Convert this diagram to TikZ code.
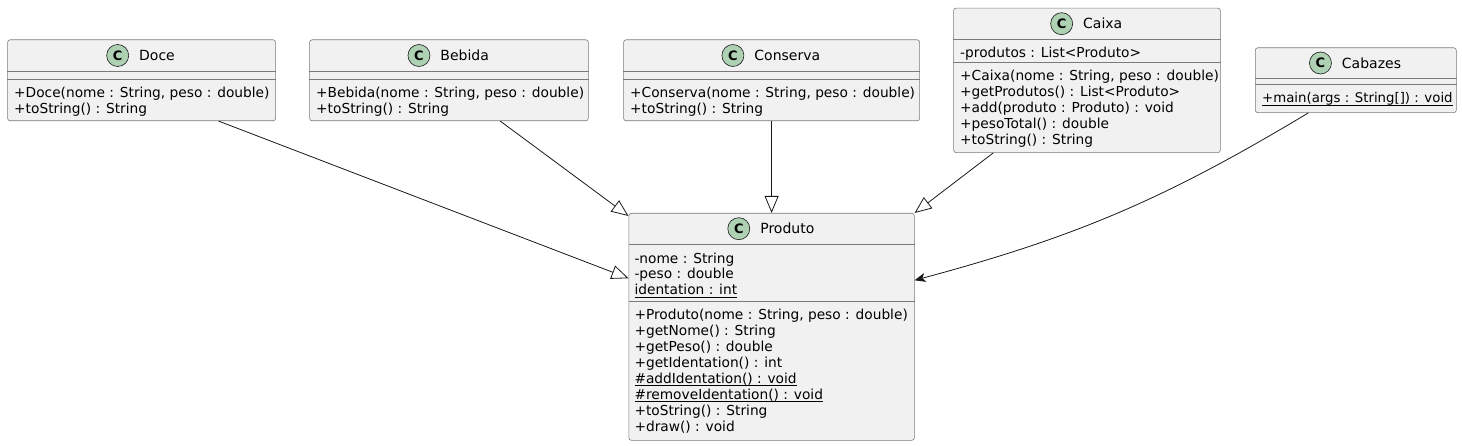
\documentclass[tikz,border=0pt]{standalone}
\usepackage{fontspec}
\setmainfont{DejaVu Sans}
\usepackage{xcolor}
\usepackage{tikz}
\usetikzlibrary{arrows.meta,positioning}
\definecolor{Ink}{HTML}{181818}
\definecolor{Rule}{HTML}{7A7A7A}
\definecolor{Paper}{HTML}{F1F1F1}
\definecolor{Mint}{HTML}{ADD1B2}
\newsavebox{\staticbox}
\newcommand{\static}[1]{\sbox{\staticbox}{#1}%
  \rlap{\rule[-2.6pt]{\wd\staticbox}{0.8pt}}\usebox{\staticbox}}
\tikzset{
  classbox/.style={draw=Rule,line width=0.6pt,fill=Paper,rounded corners=2.5pt,
              anchor=north west,inner sep=0pt},
  sep/.style={draw=Rule,line width=0.6pt},
  cname/.style={inner sep=0pt,font=\fontsize{14}{16}\selectfont},
  cmark/.style={circle,draw=Ink,line width=0.6pt,fill=Mint,minimum size=22pt,inner sep=0pt,
              font=\fontsize{13}{13}\selectfont\bfseries},
  members/.style={anchor=base west,align=left,inner sep=0pt,
              font=\fontsize{13.75}{16}\selectfont},
  extends/.style={-{Triangle[open,length=17pt,width=14pt]},line width=0.8pt,draw=Ink},
  uses/.style={-{Stealth[length=11pt,width=9pt,inset=3pt]},line width=0.8pt,draw=Ink}
}

\begin{document}
\begin{tikzpicture}[x=1pt,y=-1pt]
  \useasboundingbox (0,0) rectangle (1462,446);

  % class boxes
  \node[classbox,minimum width=268pt,minimum height=81pt] (doce) at (7.3,39.5) {};
  \node[classbox,minimum width=278.7pt,minimum height=81pt] (bebida) at (309.3,39.5) {};
  \node[classbox,minimum width=296pt,minimum height=81pt] (conserva) at (623.3,39.5) {};
  \node[classbox,minimum width=266.7pt,minimum height=144.5pt] (caixa) at (953.3,7.8) {};
  \node[classbox,minimum width=201pt,minimum height=64.8pt] (cabazes) at (1255,47.5) {};
  \node[classbox,minimum width=285.5pt,minimum height=227pt] (produto) at (628.5,213) {};

  % compartments
  \draw[sep] (doce.west |- 0,71.5) -- (doce.east |- 0,71.5);
  \draw[sep] (doce.west |- 0,79.5) -- (doce.east |- 0,79.5);
  \draw[sep] (bebida.west |- 0,71.5) -- (bebida.east |- 0,71.5);
  \draw[sep] (bebida.west |- 0,79.5) -- (bebida.east |- 0,79.5);
  \draw[sep] (conserva.west |- 0,71.5) -- (conserva.east |- 0,71.5);
  \draw[sep] (conserva.west |- 0,79.5) -- (conserva.east |- 0,79.5);
  \draw[sep] (caixa.west |- 0,39.5) -- (caixa.east |- 0,39.5);
  \draw[sep] (caixa.west |- 0,62.5) -- (caixa.east |- 0,62.5);
  \draw[sep] (cabazes.west |- 0,78.3) -- (cabazes.east |- 0,78.3);
  \draw[sep] (cabazes.west |- 0,84.3) -- (cabazes.east |- 0,84.3);
  \draw[sep] (produto.west |- 0,244.5) -- (produto.east |- 0,244.5);
  \draw[sep] (produto.west |- 0,301) -- (produto.east |- 0,301);

  % headers
  \node[cname] (doce-name) at (157,55.5) {Doce};
  \node[cmark,left=10pt of doce-name] (doce-c) {C};
  \node[cname] (bebida-name) at (464.7,55.5) {Bebida};
  \node[cmark,left=10pt of bebida-name] (bebida-c) {C};
  \node[cname] (conserva-name) at (787.3,55.5) {Conserva};
  \node[cmark,left=10pt of conserva-name] (conserva-c) {C};
  \node[cname] (caixa-name) at (1102.7,23.7) {Caixa};
  \node[cmark,left=10pt of caixa-name] (caixa-c) {C};
  \node[cname] (cabazes-name) at (1371.5,63) {Cabazes};
  \node[cmark,left=10pt of cabazes-name] (cabazes-c) {C};
  \node[cname] (produto-name) at (787.3,228.7) {Produto};
  \node[cmark,left=10pt of produto-name] (produto-c) {C};

  % members (base = last line)
  \node[members] (doce-ops) at (14,113.5)
    {+Doce(nome : String, peso : double)\\+toString() : String};
  \node[members] (bebida-ops) at (316,113.5)
    {+Bebida(nome : String, peso : double)\\+toString() : String};
  \node[members] (conserva-ops) at (630,113.5)
    {+Conserva(nome : String, peso : double)\\+toString() : String};
  \node[members] (caixa-attrs) at (960,58)
    {-produtos : List<Produto>};
  \node[members] (caixa-ops) at (960,145)
    {+Caixa(nome : String, peso : double)\\+getProdutos() : List<Produto>\\
     +add(produto : Produto) : void\\+pesoTotal() : double\\+toString() : String};
  \node[members,font=\fontsize{13.3}{16}\selectfont] (cabazes-ops) at (1262,102.8)
    {\static{+main(args : String[]) : void}};
  \node[members] (produto-attrs) at (634.3,295)
    {-nome : String\\-peso : double\\\static{identation : int}};
  \node[members] (produto-ops) at (634.3,431.5)
    {+Produto(nome : String, peso : double)\\+getNome() : String\\+getPeso() : double\\
     +getIdentation() : int\\\static{\#addIdentation() : void}\\
     \static{\#removeIdentation() : void}\\+toString() : String\\+draw() : void};

  % relations
  \draw[extends] ([xshift=77pt]doce.south) -- ([yshift=48.5pt]produto.west);
  \draw[extends] ([xshift=51.3pt]bebida.south) -- ([yshift=-3pt]produto.north west);
  \draw[extends] (conserva.south) -- (conserva.south |- produto.north);
  \draw[extends] ([xshift=-93.7pt]caixa.south) -- (produto.north east);
  \draw[uses] ([xshift=-47.5pt]cabazes.south) to[bend left=8] ([yshift=46.5pt]produto.east);
\end{tikzpicture}
\end{document}
